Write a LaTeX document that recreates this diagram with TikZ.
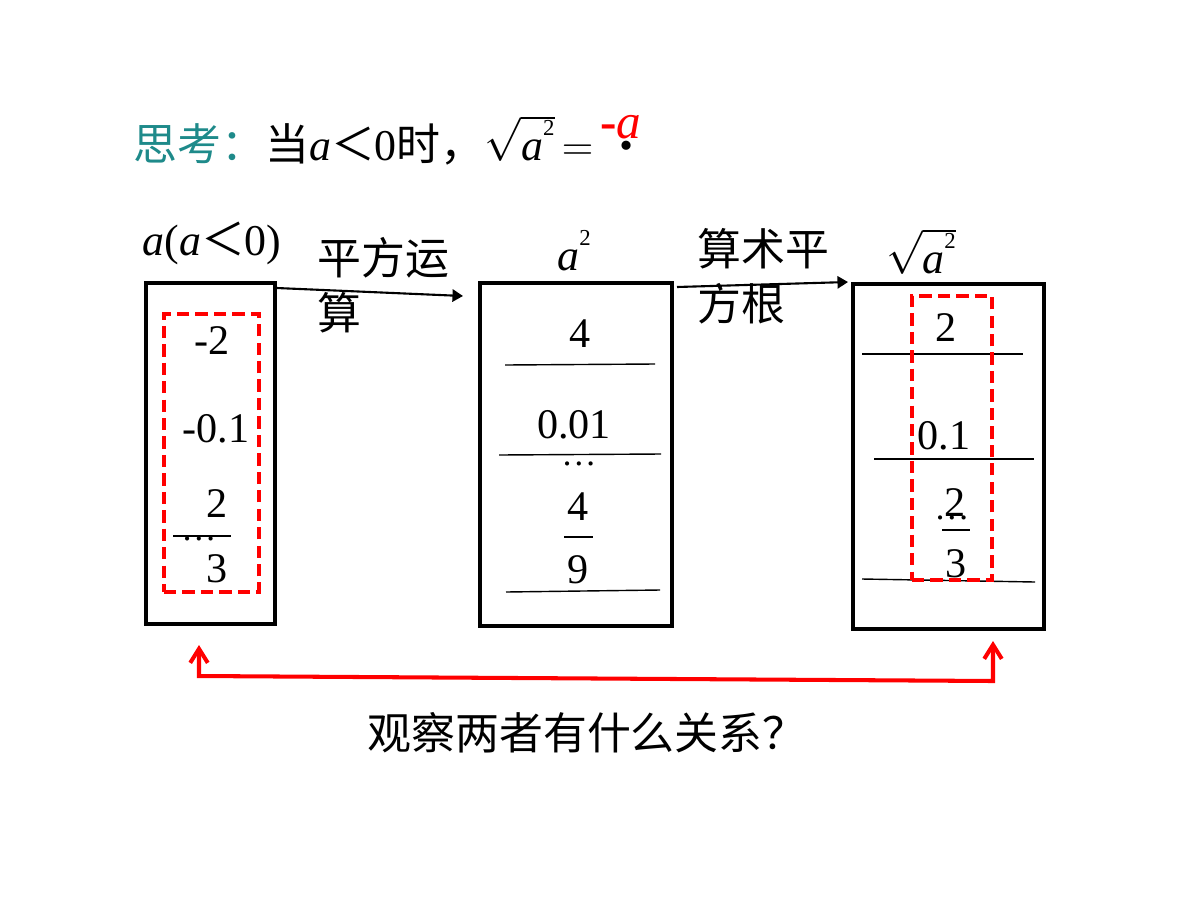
\documentclass[tikz,border=0pt]{standalone}
\usepackage{fontspec}
\setmainfont{Liberation Serif}
\newfontfamily\cjk{Noto Sans CJK SC}
\usetikzlibrary{arrows.meta,calc}
\definecolor{thinkteal}{RGB}{30,138,138}
\newcommand{\asq}[1]{\textit{a}\raisebox{0.55em}{\fontsize{#1}{#1}\selectfont 2}}
\begin{document}
\begin{tikzpicture}[x=0.02cm,y=-0.02cm,
  box/.style={draw=black,line width=2.3pt,inner sep=0pt},
  redbox/.style={draw=red,line width=2.1pt,dash pattern=on 7pt off 3.5pt,inner sep=0pt},
  num/.style={anchor=base,inner sep=0pt,font=\fontsize{24}{28}\selectfont},
  dots/.style={anchor=base,inner sep=0pt,font=\fontsize{20}{24}\selectfont},
  lbl/.style={anchor=base,inner sep=0pt,font=\fontsize{25}{28}\selectfont},
  cjklbl/.style={anchor=north west,inner sep=0pt,align=left,font=\fontsize{25}{31.5}\selectfont\cjk},
  rule/.style={line width=0.8pt},
  blackarrow/.style={line width=1.2pt,-{Triangle[length=6pt,width=7pt]}},
  redarrow/.style={draw=red,line width=2.3pt,{Straight Barb[length=8pt,width=10pt]}-{Straight Barb[length=8pt,width=10pt]}}
]
\useasboundingbox (0,0) rectangle (1200,900);

% title
\node[anchor=base west,inner sep=0pt,font=\fontsize{25}{30}\selectfont] (title) at (133,160)
  {{\cjk\color{thinkteal}思考：}{\cjk 当}\textit{a}{\cjk ＜}0{\cjk 时，}$\sqrt{\vphantom{A^2}\hbox{\asq{13}}}$\,$=$};
\node[anchor=base,inner sep=0pt,font=\fontsize{32}{30}\selectfont\bfseries] (dot) at (627,149) {.};
\node[anchor=base,inner sep=0pt,font=\fontsize{28}{30}\selectfont,text=red] (ans) at (621,138) {{\bfseries -}\textit{a}};

% boxes
\node[box,minimum width=2.58cm,minimum height=6.82cm] (b1) at (210.5,453.5) {};
\node[box,minimum width=3.84cm,minimum height=6.86cm] (b2) at (576,454.5) {};
\node[box,minimum width=3.82cm,minimum height=6.9cm] (b3) at (948.5,456.5) {};

% labels above boxes
\node[lbl] (l1) at (212,255) {\textit{a}(\textit{a}{\cjk ＜}0)};
\node[lbl] (l2) at (574,270) {\asq{13}};
\node[lbl] (l3) at (921,273) {$\sqrt{\vphantom{A^2}\hbox{\asq{13}}}$};

% box 1 content
\node[redbox,minimum width=1.9cm,minimum height=5.56cm] (r1) at (211.5,453) {};
\node[num] (n11) at (212,354) {-2};
\node[num] (n12) at (216,442) {-0.1};
\node[num] (n13) at (217,517) {2};
\node[num] (n14) at (217,582) {3};
\coordinate (f1a) at (173,536);
\coordinate (f1b) at (231,536);
\draw[rule] (f1a) -- (f1b);
\node[dots] (d1) at (199,540) {\textellipsis};

% box 2 content
\node[num] (n21) at (580,347) {4};
\node[num] (n22) at (574,438) {0.01};
\node[num] (n23) at (578,520) {4};
\node[num] (n24) at (578,583) {9};
\coordinate (h21a) at (505,365); \coordinate (h21b) at (655,364);
\coordinate (h22a) at (499,455); \coordinate (h22b) at (661,454);
\coordinate (h23a) at (506,592); \coordinate (h23b) at (660,590);
\coordinate (f2a) at (564,537); \coordinate (f2b) at (593,537);
\draw[rule] (h21a) -- (h21b);
\draw[rule] (h22a) -- (h22b);
\draw[rule] (h23a) -- (h23b);
\draw[rule] (f2a) -- (f2b);
\node[dots] (d2) at (579,465) {\textellipsis};

% box 3 content
\coordinate (h31a) at (862,354); \coordinate (h31b) at (1023,354);
\coordinate (h32a) at (874,459); \coordinate (h32b) at (1034,459);
\coordinate (h33a) at (862,579); \coordinate (h33b) at (1035,582);
\coordinate (f3a) at (942,530); \coordinate (f3b) at (970,530);
\draw[rule] (h31a) -- (h31b);
\draw[rule] (h32a) -- (h32b);
\draw[rule] (h33a) -- (h33b);
\draw[rule] (f3a) -- (f3b);
\node[num] (n31) at (946,341) {2};
\node[num] (n32) at (944,449) {0.1};
\node[num] (n33) at (955,516) {2};
\node[num] (n34) at (956,577) {3};
\node[dots] (d3) at (952,519) {\textellipsis};
\node[redbox,minimum width=1.6cm,minimum height=5.68cm] (r3) at (952,438) {};

% arrows between boxes
\coordinate (e1) at (463,296);
\draw[blackarrow] ([yshift=-0.14cm]b1.north east) -- (e1);
\node[cjklbl] (t1) at (317,237) {平方运\\算};
\coordinate (s2) at (677,287);
\draw[blackarrow] (s2) -- ([xshift=-0.06cm]b3.north west);
\node[cjklbl] (t2) at (697,228) {算术平\\方根};

% red connector
\coordinate (rlt) at (199,645);
\coordinate (rlb) at (199,676);
\coordinate (rrb) at (993,681);
\coordinate (rrt) at (993,641);
\draw[redarrow] (rlt) -- (rlb) -- (rrb) -- (rrt);

% question
\node[anchor=center,inner sep=0pt,font=\fontsize{25}{30}\selectfont\cjk] (q) at (587,733) {观察两者有什么关系？};
\end{tikzpicture}
\end{document}
